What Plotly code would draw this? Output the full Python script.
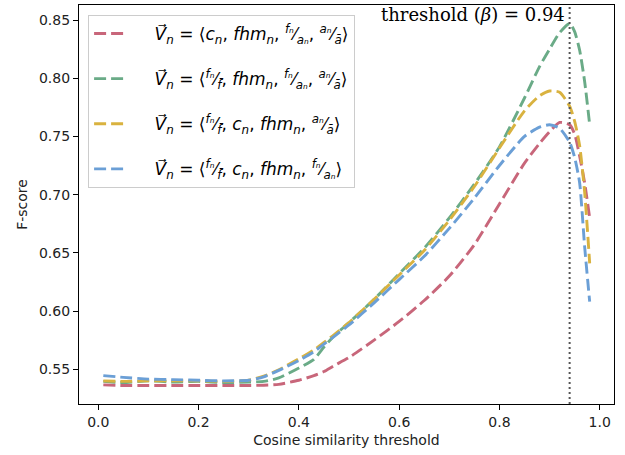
import plotly.graph_objects as go

# ---- data ----
thresholds = [0.01, 0.05, 0.10, 0.15, 0.20, 0.25, 0.30, 0.33, 0.36, 0.40, 0.43, 0.45, 0.47,
              0.50, 0.55, 0.60, 0.65, 0.70, 0.75, 0.80, 0.85, 0.88, 0.90, 0.92, 0.94,
              0.95, 0.96, 0.97, 0.98]

f_red = [0.5365, 0.536, 0.536, 0.536, 0.536, 0.536, 0.536, 0.5362, 0.537, 0.5405, 0.5445,
         0.548, 0.553, 0.560, 0.575, 0.591, 0.609, 0.630, 0.657, 0.692, 0.727, 0.744, 0.754,
         0.762, 0.760, 0.752, 0.733, 0.710, 0.680]
f_green = [0.5395, 0.5385, 0.540, 0.539, 0.5395, 0.5385, 0.539, 0.5395, 0.5425, 0.551,
           0.5585, 0.569, 0.5785, 0.590, 0.610, 0.632, 0.654, 0.680, 0.709, 0.741, 0.783,
           0.810, 0.825, 0.839, 0.847, 0.840, 0.824, 0.797, 0.760]
f_yellow = [0.5400, 0.5395, 0.5400, 0.5400, 0.5400, 0.5395, 0.5405, 0.5440, 0.5495, 0.559,
            0.5665, 0.573, 0.5795, 0.590, 0.610, 0.631, 0.652, 0.678, 0.707, 0.740, 0.772,
            0.785, 0.789, 0.788, 0.776, 0.763, 0.742, 0.702, 0.641]
f_blue = [0.5445, 0.543, 0.5415, 0.541, 0.5405, 0.540, 0.5405, 0.5435, 0.549, 0.5575, 0.565,
          0.5715, 0.578, 0.588, 0.607, 0.627, 0.647, 0.671, 0.697, 0.725, 0.750, 0.758,
          0.760, 0.757, 0.745, 0.732, 0.710, 0.655, 0.608]

series_values = [f_red, f_green, f_yellow, f_blue]
series_colors = ["#c8667a", "#6aab87", "#d9b23f", "#6b9fd6"]


def frac(num, den):
    return f"<sup>{num}</sup>\u2044<sub>{den}</sub>"


V = "<i>V\u20d7</i><sub><i>n</i></sub>"
fn_f = frac("<i>f\u2099</i>", "<i>f\u0304</i>")
fn_an = frac("<i>f\u2099</i>", "<i>a\u2099</i>")
an_a = frac("<i>a\u2099</i>", "<i>\u0101</i>")
cn = "<i>c</i><sub><i>n</i></sub>"
fhm = "<i>fhm</i><sub><i>n</i></sub>"
lead = "\u2003\u2002"

series_labels = [
    f"{lead}{V} = \u27e8{cn}, {fhm}, {fn_an}, {an_a}\u27e9",
    f"{lead}{V} = \u27e8{fn_f}, {fhm}, {fn_an}, {an_a}\u27e9",
    f"{lead}{V} = \u27e8{fn_f}, {cn}, {fhm}, {an_a}\u27e9",
    f"{lead}{V} = \u27e8{fn_f}, {cn}, {fhm}, {fn_an}\u27e9",
]

beta = 0.94
x_ticks = [0.0, 0.2, 0.4, 0.6, 0.8, 1.0]
y_ticks = [0.55, 0.60, 0.65, 0.70, 0.75, 0.80, 0.85]

fig = go.Figure()
for i, (vals, col, lab) in enumerate(zip(series_values, series_colors, series_labels)):
    fig.add_trace(go.Scatter(
        x=thresholds, y=vals, mode="lines", name=lab,
        legendgroup=f"g{i}",
        line=dict(color=col, width=2.9, dash="12px,5px", shape="spline", smoothing=0.6),
    ))

fig.add_shape(type="line", xref="x", yref="paper", x0=beta, x1=beta, y0=0, y1=1,
              line=dict(color="#555555", width=2, dash="2px,3px"))

fig.add_annotation(x=beta, y=1, xref="x", yref="paper", xanchor="right", yanchor="top",
                   text=f"threshold (<i>\u03b2</i>) = {beta}", showarrow=False,
                   font=dict(family="DejaVu Serif", size=18, color="#000"),
                   yshift=3, xshift=-3)

axis_common = dict(showline=True, linecolor="#000", linewidth=1.2, mirror=True,
                   ticks="outside", ticklen=5, tickwidth=1.2, tickcolor="#000",
                   showgrid=False, zeroline=False,
                   tickfont=dict(family="DejaVu Sans", size=14, color="#222"))

fig.update_layout(
    width=625, height=455,
    margin=dict(l=79, r=11, t=5, b=51),
    paper_bgcolor="white", plot_bgcolor="white",
    showlegend=True,
    legend=dict(x=0.017, y=0.975, xanchor="left", yanchor="top",
                bgcolor="rgba(255,255,255,0.8)", bordercolor="#cccccc", borderwidth=1,
                font=dict(family="DejaVu Sans", size=17, color="#000"),
                tracegroupgap=20),
    xaxis=dict(range=[-0.0385, 1.0285], tickvals=x_ticks,
               ticktext=[f"{v:.1f}" for v in x_ticks],
               title=dict(text="Cosine similarity threshold", standoff=6,
                          font=dict(family="DejaVu Sans", size=14, color="#222")),
               **axis_common),
    yaxis=dict(range=[0.5201, 0.8629], tickvals=y_ticks,
               ticktext=[f"{v:.2f}" for v in y_ticks],
               title=dict(text="F-score", standoff=8,
                          font=dict(family="DejaVu Sans", size=14, color="#222")),
               **axis_common),
)

fig.write_html("out.html")
